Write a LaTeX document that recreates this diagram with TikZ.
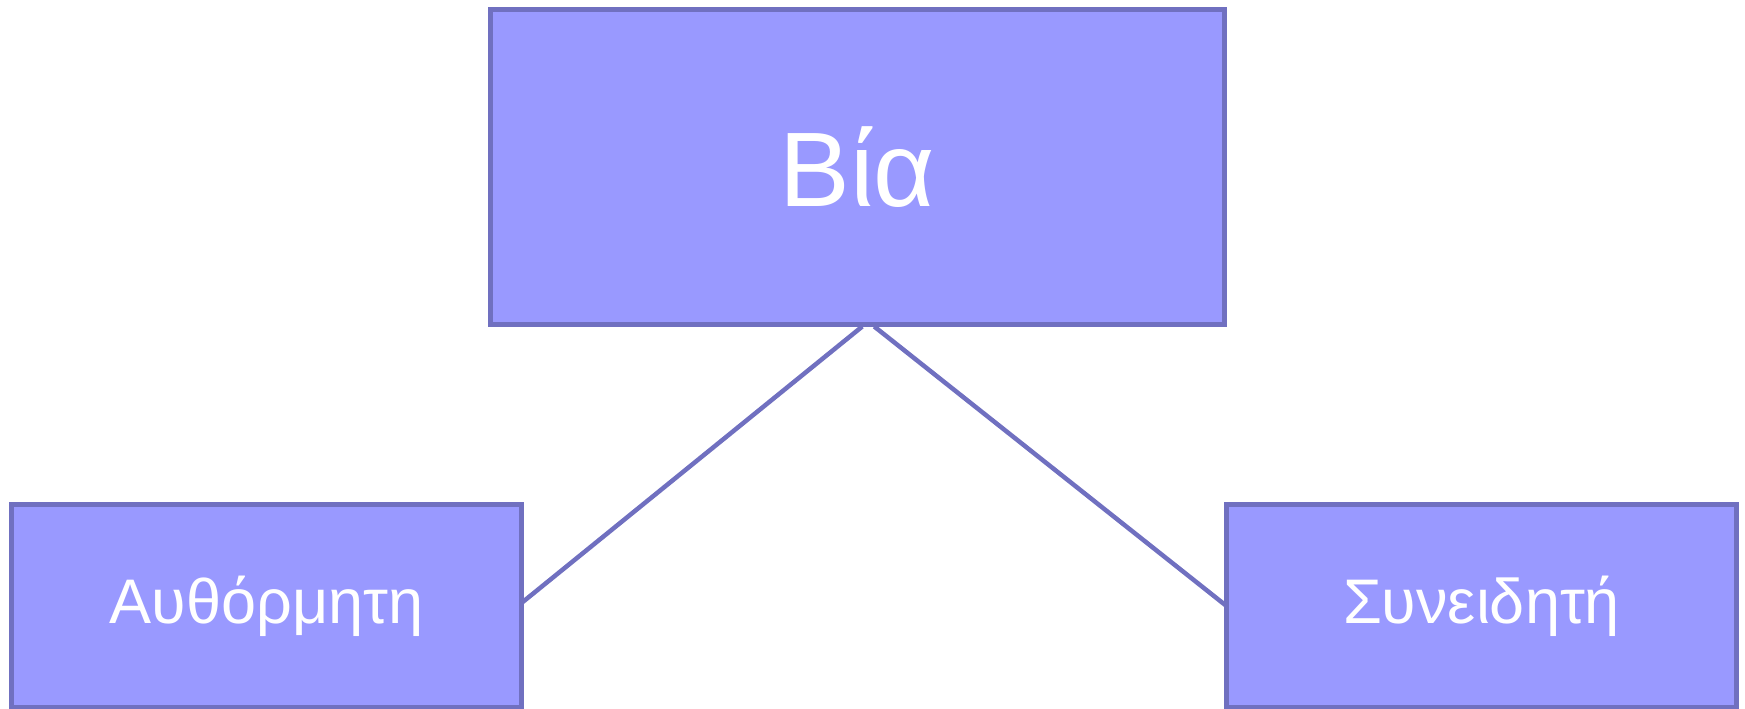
\documentclass[tikz,border=0pt]{standalone}
\usepackage{fontspec}
\setmainfont{Liberation Sans}
\definecolor{boxfill}{RGB}{153,153,255}
\definecolor{boxline}{RGB}{112,112,192}
\tikzset{
  box/.style={draw=boxline, fill=boxfill, line width=5pt, text=white, inner sep=0pt, outer sep=0pt, anchor=center},
  bigbox/.style={box, minimum width=733.5pt, minimum height=315pt, font=\fontsize{106}{120}\selectfont},
  smallbox/.style={box, minimum width=510pt, minimum height=203pt, font=\fontsize{63}{72}\selectfont},
  link/.style={draw=boxline, line width=4.5pt}
}
\begin{document}
\begin{tikzpicture}[x=1pt,y=-1pt]
\useasboundingbox (0,0) rectangle (1745,709);
\node[bigbox] (top) at (857.25,167) {Βία};
\node[smallbox] (left) at (266.5,606) {Αυθόρμητη};
\node[smallbox] (right) at (1481.5,606) {Συνειδητή};
\draw[link] ([xshift=5pt,yshift=-2pt]top.south) -- ([yshift=3pt]left.east);
\draw[link] ([xshift=17pt,yshift=-2pt]top.south) -- (right.west);
\end{tikzpicture}
\end{document}
